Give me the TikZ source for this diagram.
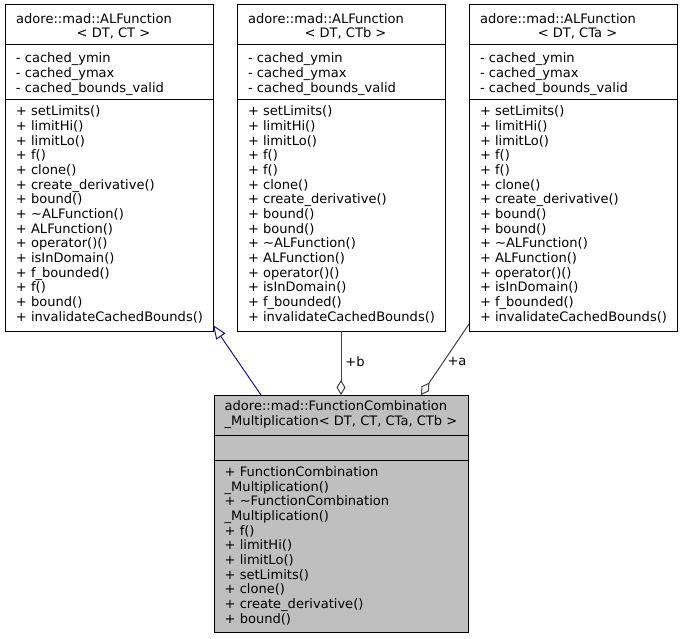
\documentclass[tikz,border=0pt]{standalone}
\usepackage{fontspec}
\setmainfont{DejaVu Sans}
\usetikzlibrary{arrows.meta}
\definecolor{edgegray}{HTML}{404040}
\definecolor{inhblue}{HTML}{191970}
\definecolor{boxgray}{HTML}{BFBFBF}
\tikzset{
  classbox/.style={draw=black, line width=1pt, minimum width=208pt, minimum height=326pt, anchor=north west, inner sep=0pt, outer sep=0pt},
  mainbox/.style={draw=black, line width=1pt, fill=boxgray, minimum width=254pt, minimum height=237pt, anchor=north west, inner sep=0pt, outer sep=0pt},
  sep/.style={draw=black, line width=1pt},
  txt/.style={anchor=base west, inner sep=0pt, font=\fontsize{13.05}{14.65}\selectfont},
  ctxt/.style={anchor=base, inner sep=0pt, font=\fontsize{13.05}{14.65}\selectfont},
  lbl/.style={inner sep=0pt, font=\fontsize{13.05}{14.65}\selectfont},
  inherit/.style={draw=inhblue, line width=1pt, -{Triangle[open, length=14pt, width=11pt]}},
  aggr/.style={draw=edgegray, line width=1pt, -{Diamond[open, length=15pt, width=9pt]}}
}
\begin{document}
\begin{tikzpicture}[x=1pt, y=-1pt]
\useasboundingbox (0,0) rectangle (683,639);

% ---------- top class boxes ----------
\foreach \nm/\x/\tp in {L/5/CT, M/237/CTb, R/469/CTa}{
  \node[classbox, name=\nm] at (\x,5) {};
  \draw[sep] ([yshift=-40pt]\nm.north west) -- ([yshift=-40pt]\nm.north east);
  \draw[sep] ([yshift=-95pt]\nm.north west) -- ([yshift=-95pt]\nm.north east);
  \node[txt, name=\nm-h1] at ({\x+11}, 23.3) {adore::mad::ALFunction};
  \node[ctxt, name=\nm-h2] at ({\x+108.5}, 37.9) {< DT, \tp\ >};
  \foreach \t [count=\i] in {- cached\_ymin, - cached\_ymax, - cached\_bounds\_valid}
    \node[txt, name=\nm-a\i] at ({\x+10.8}, {63+(\i-1)*14.65}) {\t};
}

\foreach \t [count=\i] in {+ setLimits(), + limitHi(), + limitLo(), + f(), + clone(), + create\_derivative(), + bound(), + \textasciitilde ALFunction(), + ALFunction(), + operator()(), + isInDomain(), + f\_bounded(), + f(), + bound(), + invalidateCachedBounds()}
  \node[txt, name=L-m\i] at (15.8, {116+(\i-1)*14.65}) {\t};

\foreach \nm/\x in {M/237, R/469}{
  \foreach \t [count=\i] in {+ setLimits(), + limitHi(), + limitLo(), + f(), + f(), + clone(), + create\_derivative(), + bound(), + bound(), + \textasciitilde ALFunction(), + ALFunction(), + operator()(), + isInDomain(), + f\_bounded(), + invalidateCachedBounds()}
    \node[txt, name=\nm-m\i] at ({\x+10.8}, {116+(\i-1)*14.65}) {\t};
}

% ---------- main class box ----------
\node[mainbox, name=B] at (214,395) {};
\draw[sep] ([yshift=-40pt]B.north west) -- ([yshift=-40pt]B.north east);
\draw[sep] ([yshift=-65pt]B.north west) -- ([yshift=-65pt]B.north east);
\node[txt, name=B-h1] at (224.5, 410.5) {adore::mad::FunctionCombination};
\node[txt, name=B-h2] at (224.5, 425.1) {\_Multiplication< DT, CT, CTa, CTb >};
\foreach \t [count=\i] in {+ FunctionCombination, \_Multiplication(), + \textasciitilde FunctionCombination, \_Multiplication(), + f(), + limitHi(), + limitLo(), + setLimits(), + clone(), + create\_derivative(), + bound()}
  \node[txt, name=B-m\i] at (224.5, {476.5+(\i-1)*14.65}) {\t};

% ---------- connectors ----------
\draw[inherit] ([xshift=47pt]B.north west) -- ([yshift=6pt]L.south east);
\draw[aggr] (M.south) -- (M.south |- B.north);
\draw[aggr] ([yshift=7pt]R.south west) -- ([xshift=207pt]B.north west);
\node[lbl, name=lb] at (355,362) {+b};
\node[lbl, name=la] at (457,362) {+a};
\end{tikzpicture}
\end{document}
